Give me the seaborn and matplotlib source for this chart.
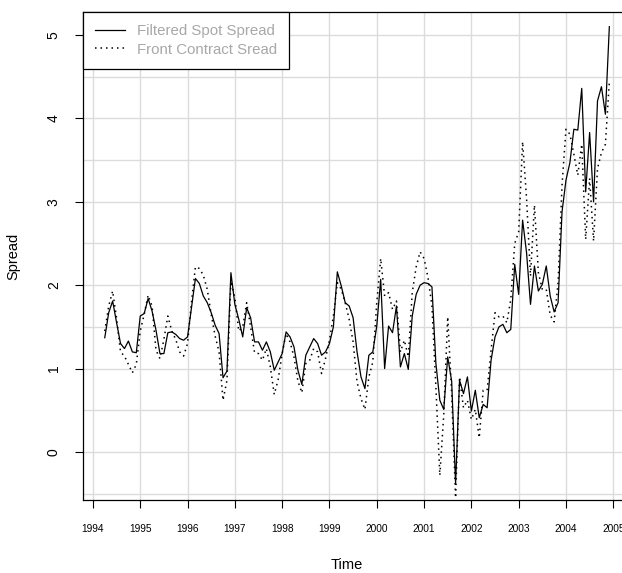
import numpy as np
import pandas as pd
import matplotlib
matplotlib.use("Agg")
import matplotlib.pyplot as plt
import seaborn as sns

# monthly series, April 1994 .. December 2004
start_year = 1994.25
spot_spread = [
    1.37, 1.67, 1.81, 1.55, 1.30, 1.24, 1.33, 1.20, 1.19,
    1.63, 1.66, 1.84, 1.69, 1.46, 1.18, 1.18, 1.43, 1.44, 1.41, 1.36, 1.34,
    1.38, 1.73, 2.08, 2.02, 1.87, 1.79, 1.67, 1.52, 1.42, 0.89, 0.97, 2.15,
    1.77, 1.59, 1.38, 1.73, 1.61, 1.32, 1.32, 1.22, 1.32, 1.20, 0.98, 1.08,
    1.18, 1.44, 1.38, 1.26, 0.98, 0.81, 1.16, 1.26, 1.36, 1.30, 1.16, 1.20,
    1.30, 1.50, 2.16, 1.99, 1.79, 1.75, 1.61, 1.20, 0.90, 0.76, 1.16, 1.20,
    1.51, 2.07, 1.00, 1.51, 1.43, 1.75, 1.02, 1.18, 0.99, 1.63, 1.89, 2.00,
    2.03, 2.02, 1.98, 1.06, 0.62, 0.51, 1.14, 0.85, -0.38, 0.86, 0.70, 0.90,
    0.49, 0.74, 0.41, 0.57, 0.53, 1.10, 1.38, 1.50, 1.53, 1.43, 1.47, 2.25,
    1.89, 2.78, 2.39, 1.77, 2.23, 1.93, 2.01, 2.23, 1.87, 1.68, 1.79, 2.88,
    3.26, 3.47, 3.87, 3.86, 4.36, 3.12, 3.83, 3.00, 4.21, 4.38, 4.05, 5.10,
]
front_spread = [
    1.45, 1.75, 1.93, 1.60, 1.20, 1.15, 1.05, 0.95, 1.05,
    1.45, 1.65, 1.88, 1.75, 1.22, 1.12, 1.35, 1.63, 1.45, 1.35, 1.20, 1.15,
    1.30, 1.80, 2.22, 2.20, 2.12, 1.95, 1.65, 1.39, 1.20, 0.62, 0.86, 2.05,
    1.85, 1.45, 1.50, 1.79, 1.50, 1.19, 1.18, 1.10, 1.24, 1.02, 0.69, 0.87,
    1.18, 1.42, 1.32, 1.14, 0.85, 0.71, 1.06, 1.10, 1.24, 1.20, 0.94, 1.12,
    1.34, 1.63, 2.03, 1.95, 1.79, 1.59, 1.32, 0.84, 0.64, 0.51, 0.90, 1.08,
    1.79, 2.32, 1.87, 1.91, 1.71, 1.81, 1.20, 1.34, 1.14, 1.91, 2.22, 2.40,
    2.32, 2.09, 1.75, 0.78, -0.28, 0.45, 1.62, 0.70, -0.55, 0.90, 0.53, 0.62,
    0.39, 0.51, 0.17, 0.74, 0.74, 1.22, 1.67, 1.62, 1.63, 1.55, 1.83, 2.50,
    2.64, 3.72, 3.04, 2.11, 2.96, 2.15, 1.95, 1.95, 1.64, 1.56, 2.03, 3.20,
    3.87, 3.81, 3.57, 3.32, 3.69, 2.55, 3.28, 2.53, 3.40, 3.59, 3.69, 4.44,
]
years = list(range(1994, 2006))
series_labels = ["Filtered Spot Spread", "Front Contract Sread"]

df = pd.DataFrame({
    "time": start_year + np.arange(len(spot_spread)) / 12,
    "spot": spot_spread,
    "front": front_spread,
})

plt.rcParams["font.family"] = ["Liberation Sans", "DejaVu Sans"]

fig = plt.figure(figsize=(6.22, 5.73), dpi=100)
ax = fig.add_axes([83 / 622, 73 / 573, 546.5 / 622, 488 / 573])

sns.lineplot(data=df, x="time", y="spot", ax=ax, color="black", lw=0.9,
             label=series_labels[0])
sns.lineplot(data=df, x="time", y="front", ax=ax, color="black", lw=1.1,
             linestyle=(0, (1, 2.6)), label=series_labels[1])

ax.set_xlim(1993.79, 2005.343)
ax.set_ylim(-0.576, 5.276)

ax.set_xticks(years)
ax.set_xticklabels([str(y) for y in years], fontsize=7.3)
ax.set_yticks(range(0, 6))
ax.set_yticks(np.arange(-0.5, 5.5, 0.5), minor=True)
ax.set_yticklabels([str(v) for v in range(0, 6)], fontsize=10, rotation=90,
                   va="center")
ax.tick_params(axis="both", which="major", direction="out", length=6,
               width=0.8, color="black")
ax.tick_params(axis="x", pad=11)
ax.tick_params(axis="y", pad=10)
ax.tick_params(axis="y", which="minor", length=0)

ax.grid(True, which="both", color="#dcdcdc", lw=1)
ax.set_axisbelow(True)
for sp in ax.spines.values():
    sp.set_color("black")
    sp.set_linewidth(0.9)

ax.set_xlabel("Time", fontsize=10.5)
ax.set_ylabel("Spread", fontsize=10.5)
ax.xaxis.set_label_coords((347 - 83) / 546.5, -0.118)
ax.yaxis.set_label_coords(-0.115, 0.5)

leg = ax.legend(loc="upper left", bbox_to_anchor=(0, 1), borderaxespad=0,
                fancybox=False, framealpha=1, edgecolor="black",
                fontsize=10.8, handlelength=2.0, handletextpad=0.8,
                borderpad=0.8, labelspacing=0.3)
leg.get_frame().set_linewidth(0.9)
for txt in leg.get_texts():
    txt.set_color("#a8a8a8")

fig.savefig("out.png", dpi=100)
